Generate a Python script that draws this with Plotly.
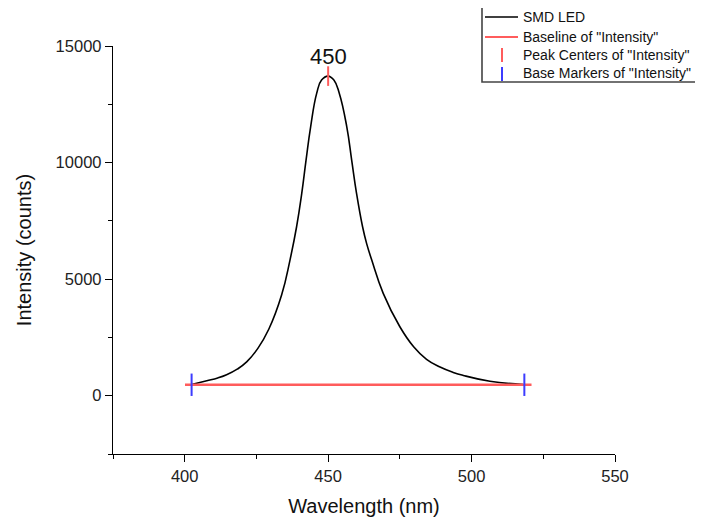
import plotly.graph_objects as go

# Spectrum of the SMD LED
wavelength = [402.4, 407.7, 411.5, 414.6, 418.3, 421.6, 425.5, 429.3, 433.8, 436.7, 439.0, 440.8,
              442.3, 443.9, 446.0, 447.7, 450.0, 452.0, 453.9, 456.5, 458.2, 459.9, 462.0, 463.4,
              465.2, 469.2, 475.0, 479.8, 484.3, 489.0, 493.6, 497.1, 506.4, 518.0]
intensity = [480, 640, 760, 900, 1140, 1450, 2030, 2850, 4330, 5819, 7247, 8679,
             10107, 11535, 12967, 13537, 13709, 13537, 12967, 11535, 10107, 8679, 7247, 6535,
             5819, 4391, 2959, 2100, 1560, 1230, 1000, 870, 620, 480]

baseline_x = [400.1, 520.9]
baseline_y = [470, 470]

peak_x = [450]
peak_y = [13709]
peak_labels = ["450"]

base_marker_x = [402.4, 518.4]
base_marker_y = [470, 470]

x_ticks = [400, 450, 500, 550]
y_ticks = [0, 5000, 10000, 15000]

legend_names = ["SMD LED", 'Baseline of "Intensity"', 'Peak Centers of "Intensity"',
                'Base Markers of "Intensity"']

FONT = "Arial, Liberation Sans, sans-serif"
RED = "#ff5c5c"
BLUE = "#3c3cff"

# page offset (body margin) and plot area geometry in pixels
OFF = 8
FIG_W, FIG_H = 703 - OFF, 517 - OFF
PL_L, PL_T, PL_W, PL_H = 105, 38, 502, 408


def px(xp):
    return (xp - OFF - PL_L) / PL_W


def py(yp):
    return (PL_T + PL_H - (yp - OFF)) / PL_H


fig = go.Figure()
fig.add_trace(go.Scatter(x=wavelength, y=intensity, mode="lines", name=legend_names[0],
                         line=dict(color="black", width=1.6, shape="spline", smoothing=1.3),
                         showlegend=False))
fig.add_trace(go.Scatter(x=baseline_x, y=baseline_y, mode="lines", name=legend_names[1],
                         line=dict(color=RED, width=2.4), showlegend=False))
fig.add_trace(go.Scatter(x=peak_x, y=peak_y, mode="markers", name=legend_names[2],
                         marker=dict(symbol="line-ns", size=14, color=RED,
                                     line=dict(color=RED, width=2)), showlegend=False))
fig.add_trace(go.Scatter(x=base_marker_x, y=base_marker_y, mode="markers", name=legend_names[3],
                         marker=dict(symbol="line-ns", size=16, color=BLUE,
                                     line=dict(color=BLUE, width=2)), showlegend=False))

for pxv, pyv, lab in zip(peak_x, peak_y, peak_labels):
    fig.add_annotation(x=pxv, y=pyv, text=lab, showarrow=False, yshift=20,
                       font=dict(family=FONT, size=22, color="#111"))

# legend box drawn by hand (the original legend runs to the page edge)
shapes = [dict(type="rect", xref="paper", yref="paper", x0=px(482), x1=px(715), y0=py(82), y1=py(5),
               line=dict(color="#444", width=1.6), fillcolor="white", layer="above")]
shapes.append(dict(type="line", xref="paper", yref="paper", x0=px(485), x1=px(518), y0=py(17),
                   y1=py(17), line=dict(color="black", width=1.6)))
shapes.append(dict(type="line", xref="paper", yref="paper", x0=px(485), x1=px(518), y0=py(37),
                   y1=py(37), line=dict(color=RED, width=2.2)))
shapes.append(dict(type="line", xref="paper", yref="paper", x0=px(502), x1=px(502), y0=py(48),
                   y1=py(62), line=dict(color=RED, width=2)))
shapes.append(dict(type="line", xref="paper", yref="paper", x0=px(502), x1=px(502), y0=py(67),
                   y1=py(81), line=dict(color=BLUE, width=2)))
for name, yrow in zip(legend_names, [17, 37, 55, 73]):
    fig.add_annotation(xref="paper", yref="paper", x=px(521), y=py(yrow), text=name,
                       showarrow=False, xanchor="left", yanchor="middle",
                       font=dict(family=FONT, size=14, color="#111"))

axis_common = dict(showline=True, linecolor="black", linewidth=1.4, ticks="outside",
                   ticklen=7, tickwidth=1.3, tickcolor="black", showgrid=False, zeroline=False,
                   mirror=False, tickfont=dict(family=FONT, size=16.5, color="#222"))

fig.update_xaxes(range=[375, 550], tickvals=x_ticks, ticktext=[str(v) for v in x_ticks],
                 minor=dict(ticks="outside", ticklen=4, tickwidth=1.2, tickcolor="black", dtick=25,
                            tick0=375),
                 title=dict(text="Wavelength (nm)", font=dict(family=FONT, size=20, color="#111"),
                            standoff=14),
                 **axis_common)
fig.update_yaxes(range=[-2500, 15000], tickvals=y_ticks, ticktext=[str(v) for v in y_ticks],
                 minor=dict(ticks="outside", ticklen=4, tickwidth=1.2, tickcolor="black", dtick=2500,
                            tick0=-2500),
                 title=dict(text="Intensity (counts)", font=dict(family=FONT, size=20, color="#111"),
                            standoff=18),
                 **axis_common)

fig.update_layout(
    width=FIG_W, height=FIG_H,
    margin=dict(l=PL_L, r=FIG_W - PL_L - PL_W, t=PL_T, b=FIG_H - PL_T - PL_H, autoexpand=False),
    paper_bgcolor="white", plot_bgcolor="white",
    hovermode=False,
    showlegend=False,
    shapes=shapes,
)

fig.write_html("out.html")
